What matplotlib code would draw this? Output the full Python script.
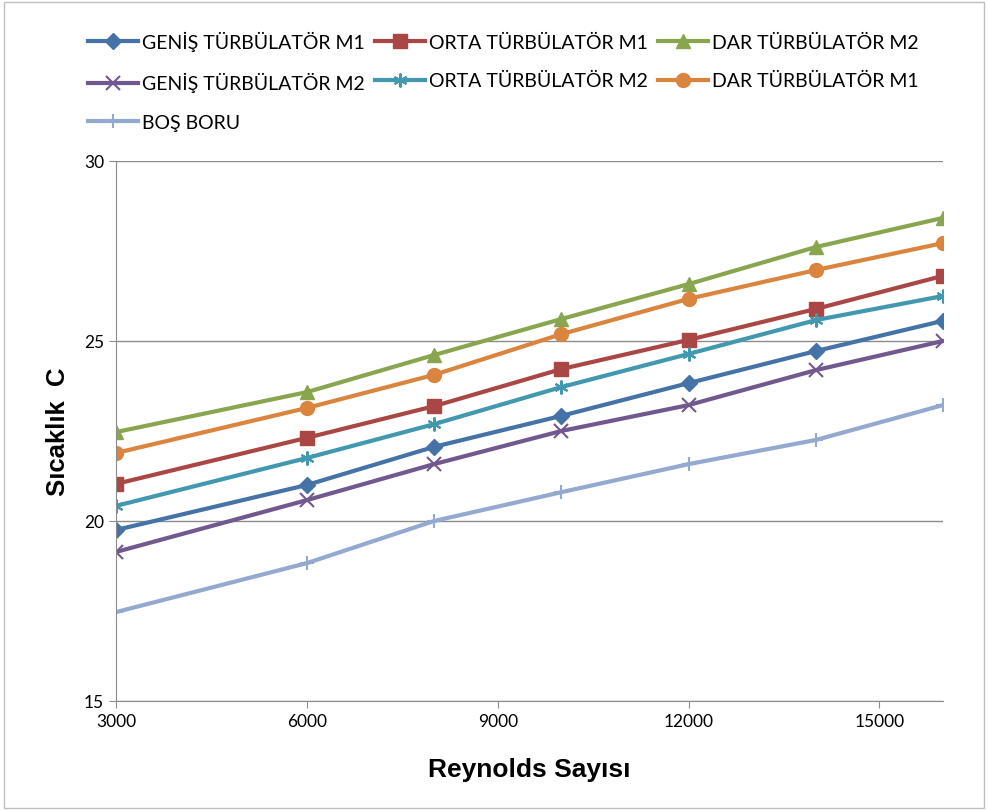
import matplotlib.pyplot as plt
from matplotlib.patches import Rectangle

plt.rcParams['font.family'] = ['Lato', 'DejaVu Sans']

reynolds = [3000, 6000, 8000, 10000, 12000, 14000, 16000]

genis_m1 = [19.75, 21.0, 22.06, 22.92, 23.83, 24.72, 25.56]
orta_m1 = [21.03, 22.31, 23.19, 24.22, 25.03, 25.89, 26.81]
dar_m2 = [22.47, 23.58, 24.61, 25.61, 26.58, 27.61, 28.42]
genis_m2 = [19.14, 20.58, 21.58, 22.5, 23.22, 24.19, 25.0]
orta_m2 = [20.42, 21.75, 22.69, 23.72, 24.64, 25.58, 26.25]
dar_m1 = [21.89, 23.14, 24.06, 25.19, 26.17, 26.97, 27.72]
bos_boru = [17.47, 18.83, 20.0, 20.8, 21.58, 22.25, 23.22]

x_ticks = [3000, 6000, 9000, 12000, 15000]
y_ticks = [15, 20, 25, 30]

fig = plt.figure(figsize=(9.88, 8.12), dpi=100)
fig.patches.append(Rectangle((0.004, 0.004), 0.992, 0.992, transform=fig.transFigure,
                             fill=False, edgecolor='#bfbfbf', linewidth=1.0))
ax = fig.add_axes([116 / 988, 1 - 702 / 812, (943 - 116) / 988, (702 - 162) / 812])

# order chosen so the column-filled legend reads row by row like the original
series = [
    ('GENİŞ TÜRBÜLATÖR M1', genis_m1, '#4572A7', 'D', 8),
    ('GENİŞ TÜRBÜLATÖR M2', genis_m2, '#71588F', 'x', 10),
    ('BOŞ BORU', bos_boru, '#93A9CF', '+', 10),
    ('ORTA TÜRBÜLATÖR M1', orta_m1, '#AA4643', 's', 10),
    ('ORTA TÜRBÜLATÖR M2', orta_m2, '#4198AF', (6, 2, 0), 10),
    ('DAR TÜRBÜLATÖR M2', dar_m2, '#89A54E', '^', 10),
    ('DAR TÜRBÜLATÖR M1', dar_m1, '#DB843D', 'o', 10),
]

for label, vals, color, marker, ms in series:
    mew = 1.5 if marker in ('x', '+', (6, 2, 0)) else 1
    ax.plot(reynolds, vals, color=color, lw=3, label=label, marker=marker,
            ms=ms, mew=mew)

ax.set_xlim(3000, 16000)
ax.set_ylim(15, 30)
ax.set_xticks(x_ticks)
ax.set_yticks(y_ticks)
ax.grid(axis='y', color='#8c8c8c', linewidth=1)
ax.set_axisbelow(True)
for s in ['top', 'right']:
    ax.spines[s].set_visible(False)
for s in ['left', 'bottom']:
    ax.spines[s].set_color('#8c8c8c')
ax.tick_params(axis='both', colors='#8c8c8c', labelcolor='black', labelsize=12.5,
               length=5, direction='out')

ax.set_xlabel('Reynolds Sayısı', fontsize=19, fontweight='bold', labelpad=20,
              family=['Liberation Sans', 'DejaVu Sans'])
ax.set_ylabel('Sıcaklık  C', fontsize=18.5, fontweight='bold', labelpad=10,
              family=['Liberation Sans', 'DejaVu Sans'])

fig.legend(loc='upper left', bbox_to_anchor=(80 / 988, 1 - 24 / 812), ncol=3,
           frameon=False, fontsize=14, handlelength=2.6, handletextpad=0.2,
           columnspacing=0.5, labelspacing=1.1, borderaxespad=0)

fig.savefig('out.png', dpi=100)
